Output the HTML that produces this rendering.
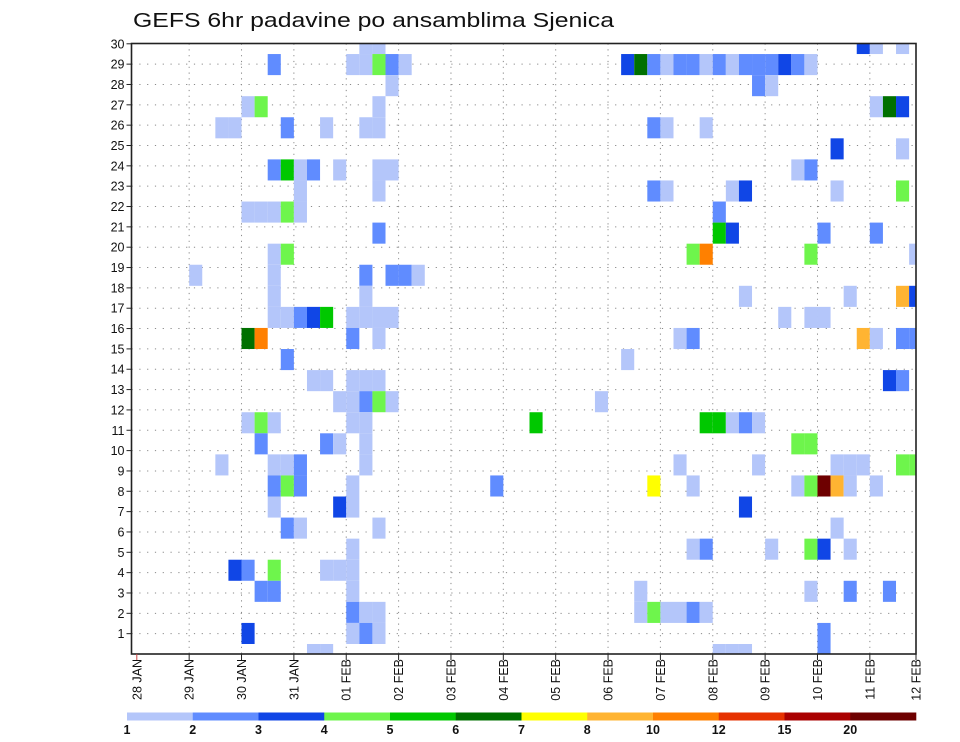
<!DOCTYPE html>
<html><head><meta charset="utf-8"><style>
html,body{margin:0;padding:0;background:#fff;}
svg{display:block;font-family:"Liberation Sans",sans-serif;}
</style></head>
<body>
<svg id="chart" width="960" height="742" viewBox="0 0 960 742" xmlns="http://www.w3.org/2000/svg">
<text x="133" y="27" font-size="20" textLength="481" lengthAdjust="spacingAndGlyphs" fill="#111">GEFS 6hr padavine po ansamblima Sjenica</text>
<g id="grid"></g>
<g id="cells"></g>
<rect x="131.5" y="43.5" width="784.5" height="610.5" fill="none" stroke="#222" stroke-width="1.6"/>
<g id="axes"></g>
<g id="colorbar"></g>
</svg>
<script>
// ensemble member rows (cell index from bottom) and their 6-hourly steps / precip class
const members = [29,28,27,26,25,24,23,22,21,20,19,18,17,16,15,14,13,12,11,10,9,8,7,6,5,4,3,2,1,0];
const memberSteps = [
[17,18,55,56,58],
[10,16,17,18,19,20,37,38,39,40,41,42,43,44,45,46,47,48,49,50,51],
[19,47,48],
[8,9,18,56,57,58],
[6,7,11,14,17,18,39,40,43],
[53,58],
[10,11,12,13,15,18,19,50,51],
[12,18,39,40,45,46,53,58],
[8,9,10,11,12,44],
[18,44,45,52,56],
[10,11,42,43,51,59],
[4,10,17,19,20,21],
[10,17,46,54,58,59],
[10,11,12,13,14,16,17,18,19,49,51,52],
[8,9,16,18,41,42,55,56,58,59],
[11,37],
[13,14,16,17,18,57,58],
[15,16,17,18,19,35],
[8,9,10,16,17,30,43,44,45,46,47],
[9,14,15,17,50,51],
[6,10,11,12,17,41,47,53,54,55,58,59],
[10,11,12,16,27,39,42,50,51,52,53,54,56],
[10,15,16,46],
[11,12,18,53],
[16,42,43,48,51,52,54],
[7,8,10,14,15,16],
[9,10,16,38,51,54,57],
[16,17,18,38,39,40,41,42,43],
[8,16,17,18,52],
[13,14,44,45,46,52]
];
const memberLevels = [
[1,1,3,1,1],
[2,1,1,4,2,1,3,6,2,1,2,2,1,2,1,2,2,2,3,2,1],
[1,2,1],
[1,4,1,1,6,3],
[1,1,2,1,1,1,2,1,1],
[3,1],
[2,5,1,2,1,1,1,1,2],
[1,1,2,1,1,3,1,4],
[1,1,1,4,1,2],
[2,5,3,2,2],
[1,4,4,9,4,1],
[1,1,2,2,2,1],
[1,1,1,1,8,3],
[1,1,2,3,5,1,1,1,1,1,1,1],
[6,9,2,1,1,2,8,1,2,2],
[2,1],
[1,1,1,1,1,3,2],
[1,1,2,4,1,1],
[1,4,1,1,1,5,5,5,1,2,1],
[2,2,1,1,4,4],
[1,1,1,2,1,1,1,1,1,1,4,4],
[2,4,2,1,2,7,1,1,4,12,8,1,1],
[1,3,1,3],
[2,1,1,1],
[1,1,2,1,4,3,1],
[3,2,4,1,1,1],
[2,2,1,1,1,2,2],
[2,1,1,1,4,1,1,2,1],
[3,1,2,1,2],
[1,1,1,1,1,2]
];
const dayLabels = ["28 JAN","29 JAN","30 JAN","31 JAN","01 FEB","02 FEB","03 FEB","04 FEB","05 FEB","06 FEB","07 FEB","08 FEB","09 FEB","10 FEB","11 FEB","12 FEB"];
const yTicks = [1,2,3,4,5,6,7,8,9,10,11,12,13,14,15,16,17,18,19,20,21,22,23,24,25,26,27,28,29,30];
const cbLabels = ["1","2","3","4","5","6","7","8","10","12","15","20"];

const classColors = ["#fff","#b4c6fa","#608cff","#1046e6","#6ef54c","#00c800","#007000","#ffff00","#ffb432","#ff8000","#e63200","#aa0000","#6e0000"];
const NS="http://www.w3.org/2000/svg";
const L=131.5,R=916,T=43.5,B=654;
const x0=136.8, stepW=13.09, dayW=52.36;
const cellH=21.07, cellBase=644;
function xStep(k){return x0+stepW*k;}
function xDay(d){return d>=15?916:x0+dayW*d;}
function yRow(r){return B-20.34*r;}
function yCellTop(c){return cellBase-cellH*c;}
function mk(tag,attrs,parent){const e=document.createElementNS(NS,tag);for(const a in attrs)e.setAttribute(a,attrs[a]);parent.appendChild(e);return e;}

const grid=document.getElementById('grid');
yTicks.forEach(r=>{ if(r<30){
  const ln=mk('line',{x1:L,x2:R,y1:yRow(r),y2:yRow(r),stroke:'#8a8a8a','stroke-width':1,'stroke-dasharray':'1.2 6.6'},grid);
  
  
}});
dayLabels.forEach((d,i)=>{ if(i>0&&i<15){
  const ln=mk('line',{x1:xDay(i),x2:xDay(i),y1:T,y2:B,stroke:'#8a8a8a','stroke-width':1,'stroke-dasharray':'1.2 4.6'},grid);
  
  
}});

const cells=document.getElementById('cells');
members.forEach((c,mi)=>{
  memberSteps[mi].forEach((k,j)=>{
    const lev=memberLevels[mi][j];
    let x=xStep(k), w=stepW, y=yCellTop(c), h=cellH;
    if(x+w>R){w=R-x;}
    if(y<T){h-= (T-y); y=T;}
    if(y+h>B){h=B-y;}
    const rc=mk('rect',{x:x.toFixed(2),y:y.toFixed(2),width:w.toFixed(2),height:h.toFixed(2),fill:classColors[lev]},cells);
    
    
  });
});

const axes=document.getElementById('axes');
yTicks.forEach(r=>{
  const y=yRow(r);
  const t=mk('line',{x1:L-5,x2:L,y1:y,y2:y,stroke:'#222','stroke-width':1},axes);
  
  
  const tx=mk('text',{x:L-7,y:y+4.5,'font-size':12.5,'text-anchor':'end',fill:'#111'},axes);
  
  
  tx.textContent=r;
});
dayLabels.forEach((d,i)=>{
  const x=xDay(i);
  const t=mk('line',{x1:x,x2:x,y1:B,y2:B+6,stroke:i==0?'#c44':'#222','stroke-width':1},axes);
  
  
  const tx=mk('text',{x:0,y:0,'font-size':12.5,'text-anchor':'end',fill:'#111',transform:'translate('+(x+4.5)+','+(B+5)+') rotate(-90)'},axes);
  
  
  tx.textContent=d;
});

const cb=document.getElementById('colorbar');
const cbL=127,cbR=916,cbW=(cbR-cbL)/12;
cbLabels.forEach((lab,i)=>{
  const r=mk('rect',{x:cbL+cbW*i,y:712.5,width:cbW+0.3,height:8,fill:classColors[i+1]},cb);
  
  
  const tx=mk('text',{x:cbL+cbW*i,y:734,'font-size':12.5,'font-weight':'bold','text-anchor':'middle',fill:'#111'},cb);
  
  
  tx.textContent=lab;
});
</script>
</body></html>
